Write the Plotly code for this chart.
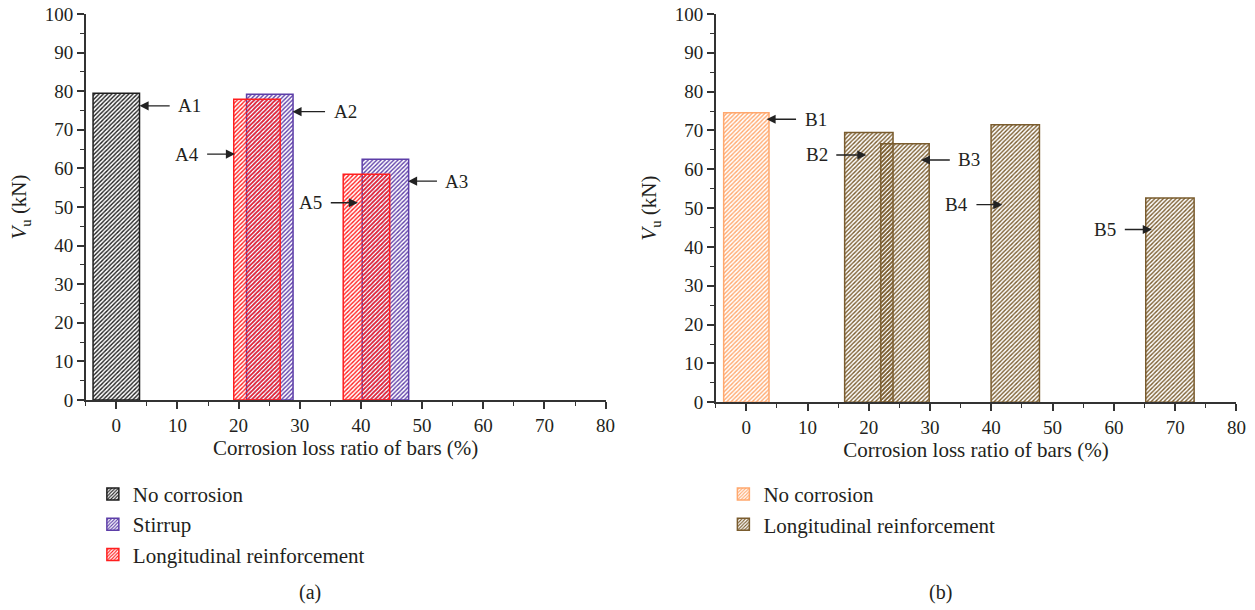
import plotly.graph_objects as go

# ---- data (a) ----
a_nc_x = [0]
a_nc_y = [79.5]
a_st_x = [25.1, 44.0]
a_st_y = [79.2, 62.4]
a_lr_x = [23.0, 40.9]
a_lr_y = [77.9, 58.5]
a_labels = ["A1", "A2", "A3", "A4", "A5"]
a_arrow_tip = [3.8, 28.8, 47.7, 19.4, 39.5]
a_arrow_y = [76.2, 74.7, 56.7, 63.7, 51.1]
a_text_x = [12.0, 37.4, 55.7, 11.5, 31.8]

# ---- data (b) ----
b_nc_x = [0]
b_nc_y = [74.6]
b_lr_x = [20.0, 25.9, 43.9, 69.15]
b_lr_y = [69.5, 66.6, 71.5, 52.6]
b_labels = ["B1", "B2", "B3", "B4", "B5"]
b_arrow_tip = [3.3, 19.6, 28.5, 41.8, 66.2]
b_arrow_y = [72.9, 63.7, 62.4, 50.9, 44.5]
b_text_x = [11.3, 11.5, 36.4, 34.3, 58.6]

x_ticks = [0, 10, 20, 30, 40, 50, 60, 70, 80]
y_ticks = [0, 10, 20, 30, 40, 50, 60, 70, 80, 90, 100]

FONT = "Liberation Serif"
TXT = "#231f20"

C_BLACK = "#1e1e1e"
C_BLUE = "#5d3ea8"
C_RED = "#ff1f1f"
C_ORANGE = "#ffa86e"
C_BROWN = "#7a5c2e"


def bar(x, y, color, name, width, xa, ya, legend, group):
    return go.Bar(
        x=x, y=y, width=width, name=name,
        xaxis=xa, yaxis=ya, legend=legend, legendgroup=group,
        marker=dict(
            color=color,
            line=dict(color=color, width=1.5),
            pattern=dict(shape="/", fillmode="replace", size=3, solidity=0.45,
                         fgcolor=color, bgcolor="rgba(0,0,0,0)"),
        ),
        hoverinfo="x+y",
    )


fig = go.Figure()
fig.add_trace(bar(a_nc_x, a_nc_y, C_BLACK, "No corrosion", 7.6, "x", "y", "legend", "a1"))
fig.add_trace(bar(a_st_x, a_st_y, C_BLUE, "Stirrup", 7.6, "x", "y", "legend", "a2"))
fig.add_trace(bar(a_lr_x, a_lr_y, C_RED, "Longitudinal reinforcement", 7.6, "x", "y", "legend", "a3"))
fig.add_trace(bar(b_nc_x, b_nc_y, C_ORANGE, "No corrosion", 7.4, "x2", "y2", "legend2", "b1"))
fig.add_trace(bar(b_lr_x, b_lr_y, C_BROWN, "Longitudinal reinforcement", 7.9, "x2", "y2", "legend2", "b2"))

axis_common = dict(
    showgrid=False, zeroline=False, showline=True, linecolor="#333333", linewidth=1.5,
    ticks="outside", ticklen=7, tickwidth=1.5, tickcolor="#333333", automargin=False,
    tickfont=dict(family=FONT, size=19, color=TXT),
    minor=dict(ticks="outside", ticklen=4, tickwidth=1.2, tickcolor="#333333", dtick=5),
)

xt = dict(axis_common, range=[-5, 80], tickvals=x_ticks, ticktext=[str(v) for v in x_ticks],
          title=dict(text="Corrosion loss ratio of bars (%)", font=dict(family=FONT, size=21, color=TXT), standoff=4))
yt = dict(axis_common, range=[0, 100], tickvals=y_ticks, ticktext=[str(v) for v in y_ticks],
          title=dict(text="<i>V</i><sub>u</sub> (kN)", font=dict(family=FONT, size=21, color=TXT), standoff=12))

fig.update_layout(
    template="none",
    width=1255, height=610,
    margin=dict(l=0, r=0, t=0, b=0, autoexpand=False),
    paper_bgcolor="white", plot_bgcolor="white",
    barmode="overlay",
    font=dict(family=FONT, size=20, color=TXT),
    xaxis=dict(xt, domain=[0.06829, 0.48255], anchor="y"),
    yaxis=dict(yt, domain=[0.3443, 0.97705], anchor="x"),
    xaxis2=dict(xt, domain=[0.57028, 0.98518], anchor="y2"),
    yaxis2=dict(yt, domain=[0.3405, 0.97705], anchor="x2"),
    legend=dict(x=0.074, y=0.1406, xanchor="left", yanchor="middle",
                font=dict(family=FONT, size=21, color=TXT), bgcolor="rgba(0,0,0,0)",
                tracegroupgap=3, traceorder="normal"),
    legend2=dict(x=0.5764, y=0.165, xanchor="left", yanchor="middle",
                 font=dict(family=FONT, size=21, color=TXT), bgcolor="rgba(0,0,0,0)",
                 tracegroupgap=3, traceorder="normal"),
    showlegend=True,
)

annotations = []


def add_arrows(labels, tips, ys, tx, xr, yr):
    for lab, tp, yy, xx in zip(labels, tips, ys, tx):
        annotations.append(dict(
            x=tp, y=yy, ax=xx, ay=yy, xref=xr, yref=yr, axref=xr, ayref=yr,
            text=lab, showarrow=True, arrowhead=2, arrowsize=1.3, arrowwidth=1.4,
            arrowcolor="#222222", standoff=0, startstandoff=7, borderpad=1,
            font=dict(family=FONT, size=19, color=TXT),
        ))


add_arrows(a_labels, a_arrow_tip, a_arrow_y, a_text_x, "x", "y")
add_arrows(b_labels, b_arrow_tip, b_arrow_y, b_text_x, "x2", "y2")

annotations.append(dict(x=310 / 1255, y=1 - 592 / 610, xref="paper", yref="paper", text="(a)",
                        xanchor="center", yanchor="middle",
                        showarrow=False, font=dict(family=FONT, size=20, color=TXT)))
annotations.append(dict(x=940 / 1255, y=1 - 592 / 610, xref="paper", yref="paper", text="(b)",
                        xanchor="center", yanchor="middle",
                        showarrow=False, font=dict(family=FONT, size=20, color=TXT)))

fig.update_layout(annotations=annotations)
fig.write_html("out.html", config={"displayModeBar": False},
               post_script="document.body.style.margin='0';document.body.style.overflow='hidden';")
